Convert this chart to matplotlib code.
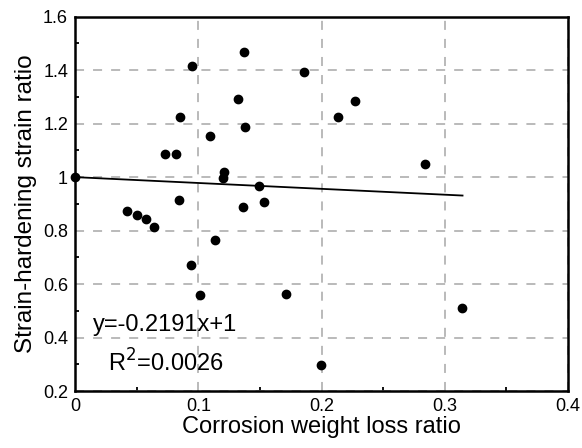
import matplotlib.pyplot as plt
from matplotlib.ticker import MultipleLocator

plt.rcParams['font.family'] = ['Liberation Sans', 'DejaVu Sans']

# Data
weight_loss = [0.0, 0.0951, 0.1368, 0.186, 0.1322, 0.0852, 0.1381, 0.1092,
               0.073, 0.0822, 0.1208, 0.1198, 0.149, 0.0841, 0.136, 0.153,
               0.0422, 0.050, 0.0576, 0.0643, 0.1138, 0.0941, 0.1011, 0.1711,
               0.2271, 0.213, 0.2839, 0.3139, 0.1993]
strain_ratio = [1.0, 1.417, 1.467, 1.394, 1.293, 1.224, 1.187, 1.152,
                1.088, 1.086, 1.021, 0.996, 0.966, 0.916, 0.889, 0.907,
                0.875, 0.859, 0.843, 0.814, 0.763, 0.670, 0.559, 0.561,
                1.286, 1.224, 1.050, 0.509, 0.298]

slope, intercept = -0.2191, 1.0
fit_x = [0.0, 0.3144]

x_ticks = [0, 0.1, 0.2, 0.3, 0.4]
x_labels = ['0', '0.1', '0.2', '0.3', '0.4']
y_ticks = [0.2, 0.4, 0.6, 0.8, 1.0, 1.2, 1.4, 1.6]
y_labels = ['0.2', '0.4', '0.6', '0.8', '1', '1.2', '1.4', '1.6']

fig = plt.figure(figsize=(5.82, 4.48), dpi=100)
ax = fig.add_axes([0.1289, 0.1272, 0.8471, 0.8355])

ax.plot(weight_loss, strain_ratio, 'o', color='black', markersize=6, zorder=4,
        clip_on=False)
ax.plot(fit_x, [intercept + slope * x for x in fit_x], color='black', lw=1.3, zorder=3)

ax.set_xlim(0, 0.4)
ax.set_ylim(0.2, 1.6)
ax.set_xticks(x_ticks)
ax.set_xticklabels(x_labels)
ax.set_yticks(y_ticks)
ax.set_yticklabels(y_labels)
ax.xaxis.set_minor_locator(MultipleLocator(0.05))
ax.yaxis.set_minor_locator(MultipleLocator(0.1))

# dashed grey grid, inward black minor ticks
ax.grid(True, which='major', color='#b4b4b4', linestyle=(0, (5, 5)), lw=1.3, zorder=1)
ax.tick_params(which='both', direction='in', labelsize=13, color='black')
ax.tick_params(which='major', length=0, pad=5)
ax.tick_params(which='minor', length=3, width=1.3)
for s in ax.spines.values():
    s.set_linewidth(1.8)

ax.set_xlabel('Corrosion weight loss ratio', fontsize=17, labelpad=1)
ax.set_ylabel('Strain-hardening strain ratio', fontsize=17.5, labelpad=4)

ax.text(0.0146, 0.448, 'y=-0.2191x+1', fontsize=17, va='center', ha='left')
ax.text(0.0268, 0.306, 'R$^2$=0.0026', fontsize=17, va='center', ha='left')

fig.savefig('out.png', dpi=100)
